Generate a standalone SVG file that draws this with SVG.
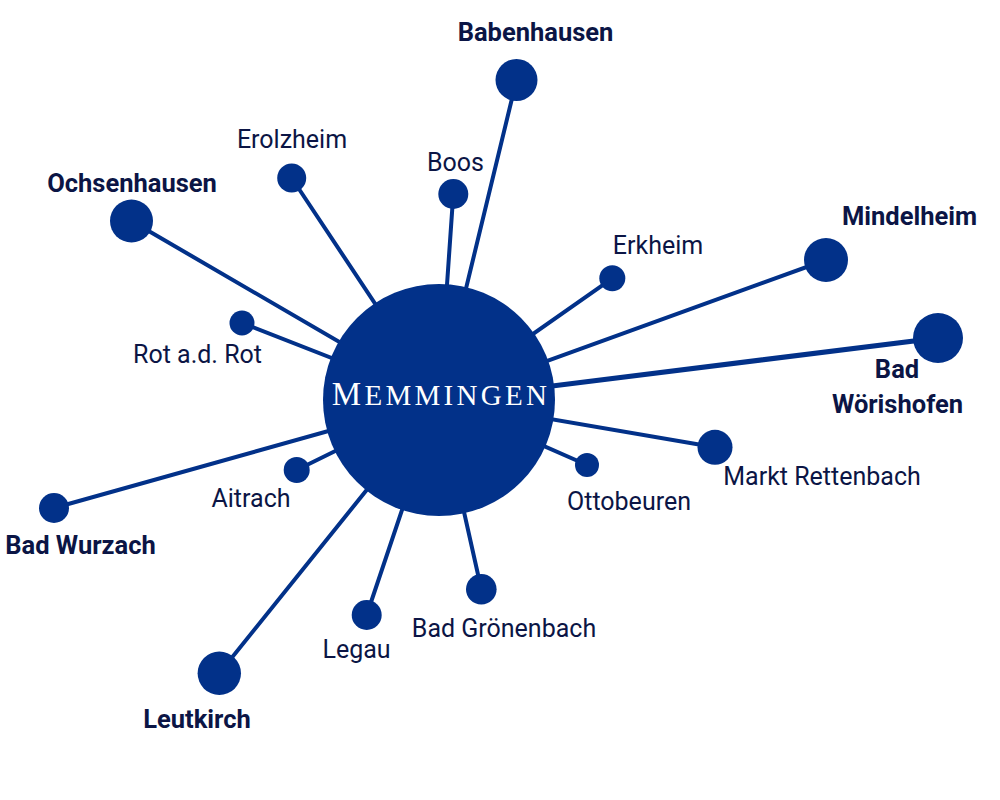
<svg xmlns="http://www.w3.org/2000/svg" width="1000" height="800" viewBox="0 0 1000 800">
<style>
.c{fill:#023189}
.l{stroke:#023189;stroke-width:4;stroke-linecap:round}
.t{font-family:Roboto,"Liberation Sans",sans-serif;font-size:25px;fill:#0b1545;text-anchor:middle}
.b{font-weight:bold;font-size:25.5px}
</style>
<rect width="1000" height="800" fill="#fff"/>
<g id="connectors">
<line class="l" x1="131.5" y1="221" x2="439" y2="400"/>
<line class="l" x1="242" y1="323" x2="439" y2="400"/>
<line class="l" x1="291.7" y1="178" x2="439" y2="400"/>
<line class="l" x1="453.3" y1="194" x2="439" y2="400"/>
<line class="l" x1="516.5" y1="80" x2="439" y2="400"/>
<line class="l" x1="612.3" y1="278.3" x2="439" y2="400"/>
<line class="l" x1="826" y1="260" x2="439" y2="400"/>
<line class="l" x1="938" y1="338" x2="439" y2="400" style="stroke-width:5"/>
<line class="l" x1="715" y1="447.3" x2="439" y2="400"/>
<line class="l" x1="587" y1="465" x2="439" y2="400"/>
<line class="l" x1="481.3" y1="589.3" x2="439" y2="400"/>
<line class="l" x1="366.7" y1="615" x2="439" y2="400"/>
<line class="l" x1="219.3" y1="673.3" x2="439" y2="400"/>
<line class="l" x1="296.7" y1="470" x2="439" y2="400"/>
<line class="l" x1="54" y1="508" x2="439" y2="400"/>
</g>
<g id="memmingen">
<circle class="c" cx="439" cy="400" r="116"/>
<text x="441" y="405" text-anchor="middle" font-family="Liberation Serif,serif" font-size="33" letter-spacing="3.3" fill="#fff">M<tspan font-size="29">EMMINGEN</tspan></text>
</g>
<g id="ochsenhausen"><circle class="c" cx="131.5" cy="221" r="21.5"/><text class="t b" x="132" y="192">Ochsenhausen</text></g>
<g id="rot"><circle class="c" cx="242" cy="323" r="12.5"/><text class="t" x="197.5" y="363">Rot a.d. Rot</text></g>
<g id="erolzheim"><circle class="c" cx="291.7" cy="178" r="14.5"/><text class="t" x="292" y="148">Erolzheim</text></g>
<g id="boos"><circle class="c" cx="453.3" cy="194" r="15"/><text class="t" x="455.5" y="171">Boos</text></g>
<g id="babenhausen"><circle class="c" cx="516.5" cy="80" r="21"/><text class="t b" x="535.5" y="41">Babenhausen</text></g>
<g id="erkheim"><circle class="c" cx="612.3" cy="278.3" r="13"/><text class="t" x="658" y="254">Erkheim</text></g>
<g id="mindelheim"><circle class="c" cx="826" cy="260" r="22"/><text class="t b" x="909.5" y="225">Mindelheim</text></g>
<g id="badwoerishofen"><circle class="c" cx="938" cy="338" r="25"/><text class="t b" x="897" y="378">Bad</text><text class="t b" x="897.5" y="413">Wörishofen</text></g>
<g id="marktrettenbach"><circle class="c" cx="715" cy="447.3" r="17.5"/><text class="t" x="822" y="485">Markt Rettenbach</text></g>
<g id="ottobeuren"><circle class="c" cx="587" cy="465" r="12"/><text class="t" x="629" y="510">Ottobeuren</text></g>
<g id="badgroenenbach"><circle class="c" cx="481.3" cy="589.3" r="15.3"/><text class="t" x="504" y="637">Bad Grönenbach</text></g>
<g id="legau"><circle class="c" cx="366.7" cy="615" r="15"/><text class="t" x="356.5" y="658">Legau</text></g>
<g id="leutkirch"><circle class="c" cx="219.3" cy="673.3" r="21.7"/><text class="t b" x="197" y="728">Leutkirch</text></g>
<g id="aitrach"><circle class="c" cx="296.7" cy="470" r="13"/><text class="t" x="251" y="507">Aitrach</text></g>
<g id="badwurzach"><circle class="c" cx="54" cy="508" r="15"/><text class="t b" x="80.5" y="554">Bad Wurzach</text></g>
</svg>
